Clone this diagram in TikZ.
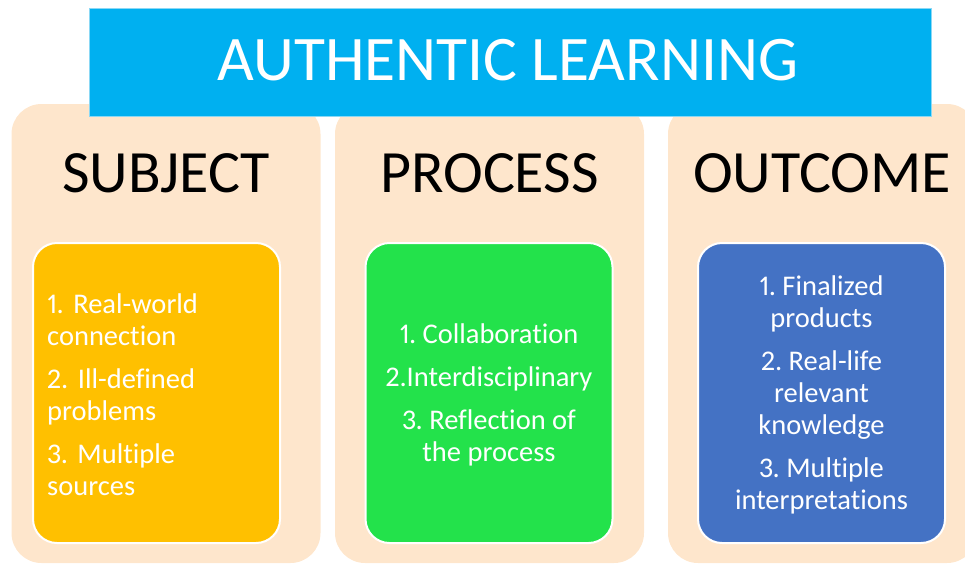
\documentclass[tikz,border=0pt]{standalone}
\usepackage{fontspec}
\setmainfont{Carlito}[Ligatures=NoCommon, Numbers=Proportional]
\frenchspacing
\definecolor{titleblue}{HTML}{00B0F0}
\definecolor{titleedge}{HTML}{8AD8F5}
\definecolor{peach}{HTML}{FEE6CC}
\definecolor{amber}{HTML}{FFC000}
\definecolor{leaf}{HTML}{23E24B}
\definecolor{steel}{HTML}{4472C4}
\tikzset{
  panel/.style={rectangle, rounded corners=30pt, fill=peach, inner sep=0pt,
    minimum width=309pt, minimum height=459pt},
  titlebar/.style={rectangle, fill=titleblue, draw=titleedge, line width=0.8pt,
    inner sep=0pt, minimum width=842pt, minimum height=108pt},
  head/.style={anchor=base, font=\fontsize{60}{72}\selectfont, text=black},
  listbox/.style={rectangle, rounded corners=24pt, draw=white, line width=2pt,
    inner sep=0pt, minimum width=247pt, minimum height=300pt},
  items/.style={inner sep=0pt, text=white, font=\fontsize{28.5}{32}\selectfont}
}
\begin{document}
\begin{tikzpicture}[x=1pt,y=-1pt]
\useasboundingbox (0,0) rectangle (965,565);
\clip (0,0) rectangle (965,565);
% three category panels
\node[panel] (subjpanel) at (166,333.5) {};
\node[panel] (procpanel) at (489.5,333.5) {};
\node[panel] (outcpanel) at (822.5,333.5) {};
% title bar across the top
\node[titlebar] (title) at (510,62) {};
\node[anchor=base, text=white, font=\fontsize{63.5}{76}\selectfont] (titletext) at (508,80) {AUTHENTIC LEARNING};
% panel headings
\node[head] (subjhead) at (166,192) {SUBJECT};
\node[head] (prochead) at (489.5,192) {PROCESS};
\node[head] (outchead) at (822,192) {OUTCOME};
% coloured lists
\node[listbox, fill=amber] (subjbox) at (156.5,393) {};
\node[listbox, fill=leaf] (procbox) at (489,393) {};
\node[listbox, fill=steel] (outcbox) at (821.5,393) {};
\node[items, anchor=west, align=left, text width=225pt] (subjlist) at (47,395)
  {1. Real-world\\connection\\[11pt]2. Ill-defined\\problems\\[11pt]3. Multiple\\sources};
\node[items, align=center] (proclist) at (489,395)
  {1. Collaboration\\[11pt]2.Interdisciplinary\\[11pt]3. Reflection of\\the process};
\node[items, align=center] (outclist) at (821.5,395)
  {1. Finalized\\products\\[11pt]2. Real-life\\relevant\\knowledge\\[11pt]3. Multiple\\interpretations};
\end{tikzpicture}
\end{document}
